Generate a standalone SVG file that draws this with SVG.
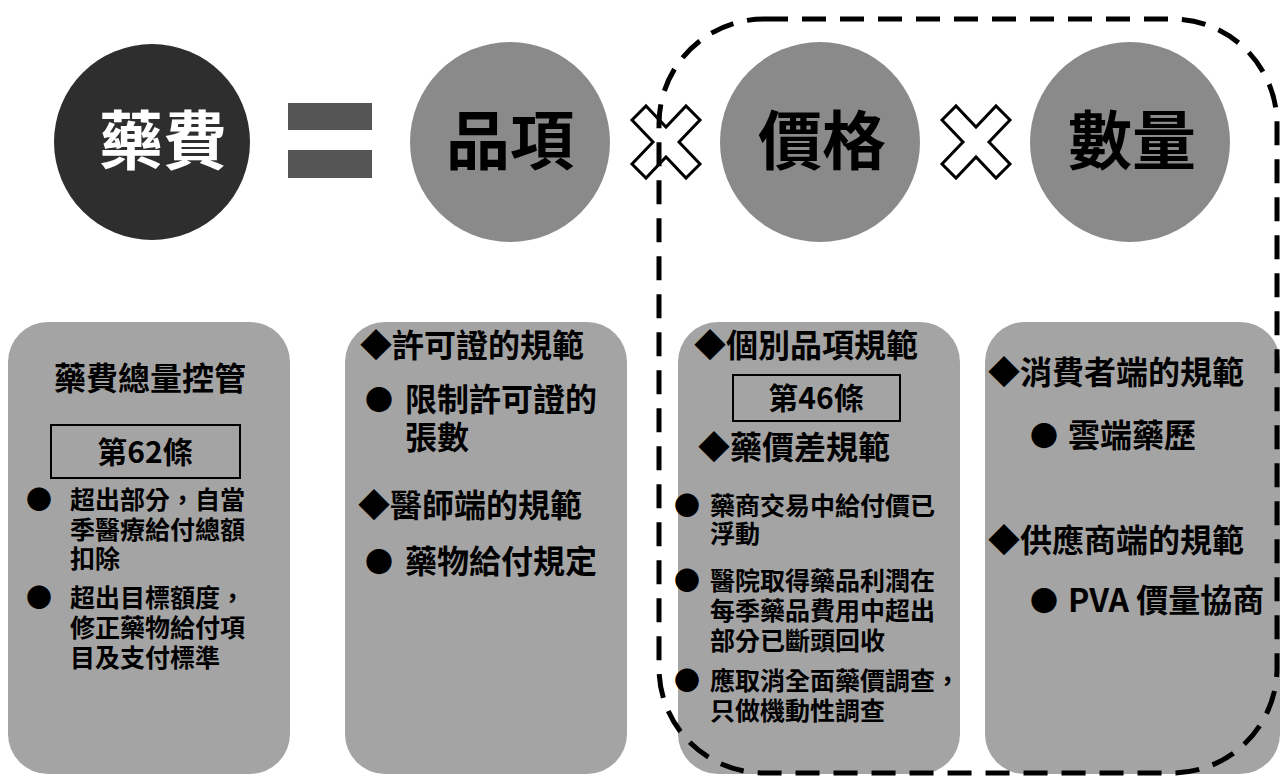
<svg xmlns="http://www.w3.org/2000/svg" width="1287" height="780" viewBox="0 0 1287 780">
<style>
.t{font-family:"Noto Sans CJK TC","Noto Sans CJK SC",sans-serif;font-weight:700;fill:#000}
.big{font-size:64px}
.h{font-size:32px}
.b{font-size:25px}
.dot{font-size:26px}
.box{fill:#a4a4a4}
.circ{fill:#8a8a8a}
.xs{fill:#fff;stroke:#000;stroke-width:3;stroke-linejoin:miter}
.law{fill:none;stroke:#000;stroke-width:2}
</style>
<defs>
<polygon id="xmark" points="-34,-22 -20,-36 0,-15 20,-36 34,-22 13,0 34,22 20,36 0,15 -20,36 -34,22 -13,0"/>
</defs>
<rect width="1287" height="780" fill="#fff"/>

<g id="drugcost">
<circle cx="152" cy="142" r="98" fill="#2e2e2e"/>
<text class="t big" x="163" y="164" text-anchor="middle" style="fill:#fff">藥費</text>
</g>
<g id="equals">
<rect x="288" y="103" width="84" height="27" fill="#555"/>
<rect x="288" y="150" width="84" height="28" fill="#555"/>
</g>
<g id="item">
<circle cx="510" cy="142" r="100" class="circ"/>
<text class="t big" x="510" y="164" text-anchor="middle">品項</text>
</g>
<g id="times1">
<use href="#xmark" x="666" y="142" class="xs"/>
</g>
<g id="price">
<circle cx="820" cy="142" r="100" class="circ"/>
<text class="t big" x="822" y="164" text-anchor="middle">價格</text>
</g>
<g id="times2">
<use href="#xmark" x="976" y="142" class="xs"/>
</g>
<g id="quantity">
<circle cx="1130" cy="142" r="100" class="circ"/>
<text class="t big" x="1132" y="164" text-anchor="middle">數量</text>
</g>

<g id="box1">
<rect x="8" y="322" width="282" height="452" rx="40" class="box"/>
<text class="t h" x="150" y="390" text-anchor="middle">藥費總量控管</text>
<rect x="51" y="425" width="189" height="53" class="law"/>
<text class="t h" x="145" y="463" text-anchor="middle" style="font-size:30px">第62條</text>
<text class="t dot" x="26" y="509">●</text>
<text class="t b"><tspan x="70" y="509">超出部分，自當</tspan><tspan x="70" y="539">季醫療給付總額</tspan><tspan x="70" y="568">扣除</tspan></text>
<text class="t dot" x="26" y="607">●</text>
<text class="t b"><tspan x="70" y="607">超出目標額度，</tspan><tspan x="70" y="637">修正藥物給付項</tspan><tspan x="70" y="667">目及支付標準</tspan></text>
</g>

<g id="box2">
<rect x="345" y="322" width="282" height="452" rx="40" class="box"/>
<text class="t h" x="360" y="357">◆許可證的規範</text>
<text class="t h" x="365" y="411" style="font-size:28px">●</text>
<text class="t h"><tspan x="405" y="411">限制許可證的</tspan><tspan x="405" y="449">張數</tspan></text>
<text class="t h" x="358" y="517">◆醫師端的規範</text>
<text class="t h" x="365" y="573" style="font-size:28px">●</text>
<text class="t h" x="405" y="573">藥物給付規定</text>
</g>

<g id="box3">
<rect x="678" y="322" width="282" height="452" rx="40" class="box"/>
<text class="t h" x="694" y="357">◆個別品項規範</text>
<rect x="733" y="375" width="167" height="46" class="law"/>
<text class="t h" x="816" y="409" text-anchor="middle" style="font-size:30px">第46條</text>
<text class="t h" x="698" y="459">◆藥價差規範</text>
<text class="t dot" x="674" y="515">●</text>
<text class="t b"><tspan x="710" y="515">藥商交易中給付價已</tspan><tspan x="710" y="543">浮動</tspan></text>
<text class="t dot" x="674" y="590">●</text>
<text class="t b"><tspan x="710" y="590">醫院取得藥品利潤在</tspan><tspan x="710" y="620">每季藥品費用中超出</tspan><tspan x="710" y="650">部分已斷頭回收</tspan></text>
<text class="t dot" x="674" y="690">●</text>
<text class="t b"><tspan x="710" y="690">應取消全面藥價調查，</tspan><tspan x="710" y="720">只做機動性調查</tspan></text>
</g>

<g id="box4">
<rect x="985" y="322" width="295" height="452" rx="40" class="box"/>
<text class="t h" x="988" y="384">◆消費者端的規範</text>
<text class="t h" x="1030" y="447" style="font-size:28px">●</text>
<text class="t h" x="1068" y="447">雲端藥歷</text>
<text class="t h" x="988" y="552">◆供應商端的規範</text>
<text class="t h" x="1030" y="612" style="font-size:28px">●</text>
<text class="t h" x="1068" y="612">PVA 價量協商</text>
</g>

<g id="connectors">
<rect x="659" y="19" width="618" height="754" rx="105" ry="105" fill="none" stroke="#000" stroke-width="5" stroke-dasharray="24 14"/>
</g>
</svg>
